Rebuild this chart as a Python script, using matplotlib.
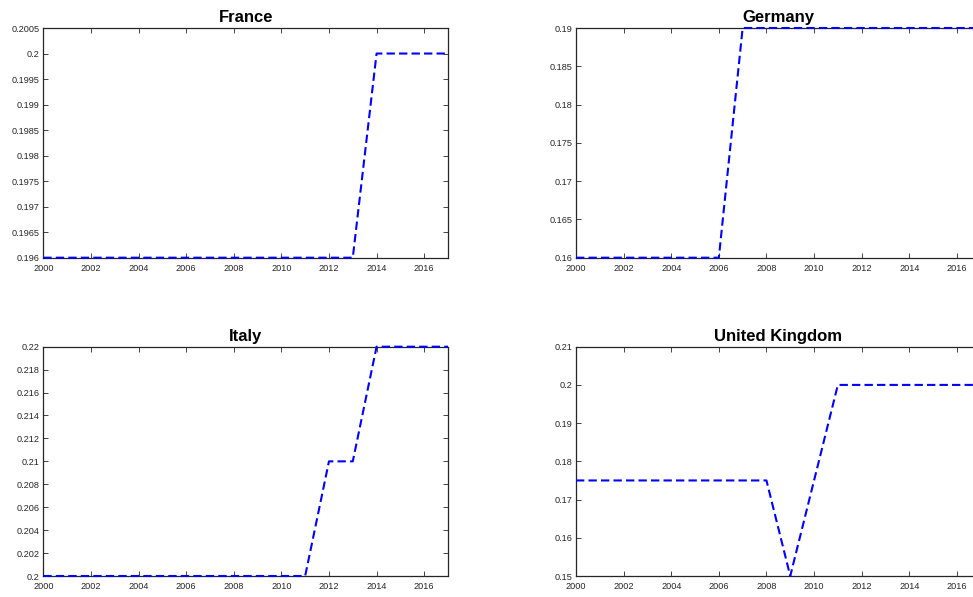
import numpy as np
import matplotlib
matplotlib.use("Agg")
import matplotlib.pyplot as plt
from matplotlib.ticker import FormatStrFormatter

years = list(range(2000, 2018))
france = [0.196] * 14 + [0.2] * 4
germany = [0.16] * 7 + [0.19] * 11
italy = [0.2] * 12 + [0.21, 0.21] + [0.22] * 4
uk = [0.175] * 9 + [0.15, 0.175] + [0.2] * 7

titles = ["France", "Germany", "Italy", "United Kingdom"]
series = [france, germany, italy, uk]
ylims = [(0.196, 0.2005), (0.16, 0.19), (0.2, 0.22), (0.15, 0.21)]
ysteps = [0.0005, 0.005, 0.002, 0.01]
xticks = list(range(2000, 2017, 2))

plt.rcParams['font.family'] = ['Liberation Sans', 'DejaVu Sans']

W, H = 973, 597
fig = plt.figure(figsize=(W / 100, H / 100), dpi=100)

# pixel boxes: left, top, right, bottom
boxes = [
    (43.3, 28.0, 448.0, 257.7),
    (576.0, 28.0, 980.7, 257.7),
    (43.3, 346.7, 448.0, 576.0),
    (576.0, 346.7, 980.7, 576.0),
]

gray = '#262626'
for box, title, vals, yl, ys in zip(boxes, titles, series, ylims, ysteps):
    l, t, r, b = box
    ax = fig.add_axes([l / W, 1 - b / H, (r - l) / W, (b - t) / H])
    ax.plot(years, vals, color=(0, 0, 1), linestyle=(0, (4, 2)), linewidth=1.5,
            clip_on=False, zorder=3)
    ax.set_xlim(2000, 2017)
    ax.set_ylim(*yl)
    ax.set_xticks(xticks)
    n = int(round((yl[1] - yl[0]) / ys))
    ax.set_yticks([round(yl[0] + i * ys, 6) for i in range(n + 1)])
    ax.yaxis.set_major_formatter(FormatStrFormatter('%g'))
    ax.tick_params(direction='in', length=3.5, width=0.6, colors=gray,
                   labelsize=6.6, top=True, right=True, pad=2.5)
    ax.tick_params(axis='x', pad=4.5)
    for s in ax.spines.values():
        s.set_color(gray)
        s.set_linewidth(0.9)
    ax.set_title(title, fontsize=12, fontweight='bold', pad=4)

fig.savefig("out.png", dpi=100)
